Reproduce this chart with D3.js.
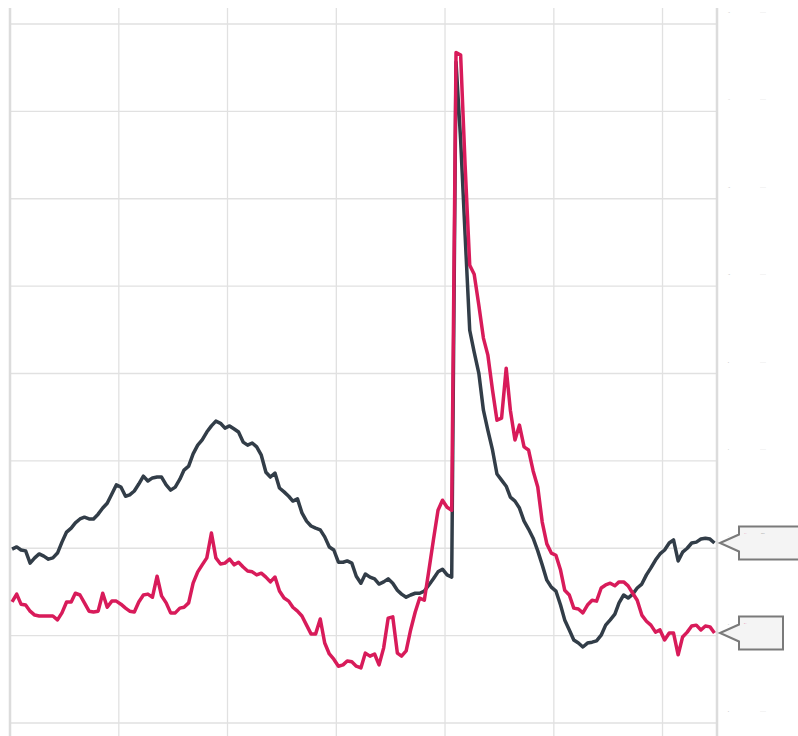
<!DOCTYPE html>
<html>
<head>
<meta charset="utf-8">
<script src="https://cdn.jsdelivr.net/npm/d3@7"></script>
<style>
  html, body { margin: 0; padding: 0; background: #fff; overflow: hidden; }
  svg { display: block; font-family: "Noto Sans", sans-serif; }
</style>
</head>
<body>
<svg id="chart" width="798" height="736"></svg>
<script>
// monthly series, Jan 2012 .. Dec 2024 (one value per month)
const firstMonth = '2012-01'
const darkValues = [
  3.98, 4.03, 3.96, 3.94, 3.66, 3.78, 3.87, 3.82, 3.75, 3.78, 3.89, 4.14,
  4.37, 4.46, 4.58, 4.67, 4.71, 4.67, 4.67, 4.78, 4.92, 5.03, 5.24, 5.45,
  5.40, 5.19, 5.22, 5.31, 5.47, 5.65, 5.54, 5.61, 5.63, 5.63, 5.45, 5.33,
  5.40, 5.58, 5.79, 5.88, 6.16, 6.36, 6.48, 6.66, 6.80, 6.91, 6.86, 6.75,
  6.80, 6.73, 6.66, 6.43, 6.36, 6.41, 6.32, 6.13, 5.74, 5.63, 5.72, 5.38,
  5.29, 5.19, 5.08, 5.13, 4.81, 4.62, 4.51, 4.46, 4.42, 4.26, 4.03, 3.96,
  3.68, 3.68, 3.71, 3.66, 3.36, 3.20, 3.41, 3.34, 3.30, 3.18, 3.23, 3.30,
  3.20, 3.04, 2.95, 2.88, 2.93, 2.97, 2.97, 3.02, 3.16, 3.30, 3.46, 3.52,
  3.39, 3.34, 15.13, 13.34, 11.17, 8.99, 8.49, 8.01, 7.16, 6.70, 6.25, 5.70,
  5.56, 5.42, 5.17, 5.08, 4.92, 4.62, 4.44, 4.23, 3.94, 3.62, 3.27, 3.11,
  3.02, 2.70, 2.36, 2.13, 1.90, 1.83, 1.74, 1.83, 1.85, 1.88, 2.01, 2.24,
  2.36, 2.49, 2.75, 2.93, 2.86, 2.95, 3.09, 3.18, 3.39, 3.55, 3.73, 3.87,
  3.96, 4.12, 4.19, 3.71, 3.91, 4.00, 4.12, 4.14, 4.21, 4.23, 4.21, 4.12
]
const redValues = [
  2.77, 2.95, 2.72, 2.70, 2.56, 2.47, 2.45, 2.45, 2.45, 2.45, 2.36, 2.52,
  2.77, 2.77, 2.97, 2.93, 2.75, 2.56, 2.54, 2.56, 2.97, 2.65, 2.79, 2.79,
  2.72, 2.63, 2.56, 2.54, 2.77, 2.93, 2.95, 2.88, 3.36, 2.91, 2.75, 2.52,
  2.52, 2.63, 2.65, 2.75, 3.20, 3.46, 3.62, 3.78, 4.35, 3.78, 3.64, 3.66,
  3.75, 3.62, 3.68, 3.57, 3.48, 3.46, 3.39, 3.43, 3.34, 3.23, 3.34, 3.02,
  2.86, 2.79, 2.65, 2.56, 2.45, 2.24, 2.04, 2.04, 2.38, 1.83, 1.58, 1.46,
  1.30, 1.33, 1.42, 1.40, 1.30, 1.26, 1.60, 1.53, 1.58, 1.33, 1.72, 2.40,
  2.43, 1.60, 1.53, 1.65, 2.13, 2.54, 2.86, 2.81, 3.50, 4.19, 4.87, 5.10,
  4.94, 4.87, 15.35, 15.29, 12.77, 10.48, 10.27, 9.57, 8.81, 8.42, 7.62, 6.93,
  6.98, 8.12, 7.16, 6.48, 6.82, 6.32, 6.25, 5.77, 5.40, 4.60, 4.10, 3.89,
  3.84, 3.50, 3.04, 2.93, 2.63, 2.61, 2.52, 2.70, 2.81, 2.79, 3.09, 3.16,
  3.20, 3.14, 3.23, 3.23, 3.14, 2.97, 2.81, 2.47, 2.33, 2.24, 2.08, 2.13,
  1.90, 2.06, 2.06, 1.56, 1.97, 2.08, 2.22, 2.24, 2.13, 2.22, 2.20, 2.06
]
const yTicks = [0, 2, 4, 6, 8, 10, 12, 14, 16]
const seriesNames = ['dark', 'red']
const seriesColors = ['#323d48', '#d81b5a']

const svg = d3.select('#chart')
const plot = {left: 10, right: 717, top: 8, bottom: 736}

const start = d3.utcParse('%Y-%m')(firstMonth)
// values sit at the middle of each month
const dates = darkValues.map((d, i) => d3.utcDay.offset(d3.utcMonth.offset(start, i), 14))

const x = d3.scaleUtc()
    .domain([start, d3.utcYear.offset(start, 13)])
    .range([plot.left, plot.right])
const y = d3.scaleLinear().domain([0, 16]).range([723, 24])

//grid
const grid = svg.append('g')
grid.selectAll('.vgrid')
    .data(x.ticks(d3.utcYear.every(2)))
    .join('line')
    .attr('x1', d => x(d)).attr('x2', d => x(d))
    .attr('y1', plot.top).attr('y2', plot.bottom)
    .attr('stroke', '#e1e1e1').attr('stroke-width', 1.3)
grid.selectAll('.hgrid')
    .data(yTicks)
    .join('line')
    .attr('x1', plot.left).attr('x2', plot.right)
    .attr('y1', d => y(d)).attr('y2', d => y(d))
    .attr('stroke', '#e1e1e1').attr('stroke-width', 1.3)

// frame lines left and right
svg.append('line').attr('x1', plot.left).attr('x2', plot.left)
    .attr('y1', plot.top).attr('y2', plot.bottom)
    .attr('stroke', '#dcdcdc').attr('stroke-width', 2.5)
svg.append('line').attr('x1', plot.right).attr('x2', plot.right)
    .attr('y1', plot.top).attr('y2', plot.bottom)
    .attr('stroke', '#dcdcdc').attr('stroke-width', 2.5)

// tiny right axis labels
const lab = svg.append('g').attr('fill', '#aaa')
lab.selectAll('.tv').data(yTicks).join('text')
    .attr('font-size', 1.6)
    .attr('x', 728).attr('y', d => y(d) - 11)
    .text(d => d)
lab.selectAll('.tu').data(yTicks).join('text')
    .attr('font-size', 2)
    .attr('x', 760).attr('y', d => y(d) - 11)
    .text('———')

// lines
const line = d3.line().x((d, i) => x(dates[i])).y(d => y(d))
const allSeries = [darkValues, redValues]
svg.selectAll('.series')
    .data(allSeries)
    .join('path')
    .attr('d', d => line(d))
    .attr('fill', 'none')
    .attr('stroke', (d, i) => seriesColors[i])
    .attr('stroke-width', 3.5)
    .attr('stroke-linejoin', 'round')

// end callouts
const boxWidth = [90, 44]
allSeries.forEach((vals, i) => {
    const last = vals[vals.length - 1]
    const cy = y(last)
    const tip = 720, bx = 739, bw = boxWidth[i]
    const g = svg.append('g')
    g.append('path')
        .attr('d', `M${tip},${cy} L${bx},${cy - 8.5} L${bx},${cy - 16.5} L${bx + bw},${cy - 16.5} L${bx + bw},${cy + 16.5} L${bx},${cy + 16.5} L${bx},${cy + 8.5} Z`)
        .attr('fill', '#f4f4f4')
        .attr('stroke', '#7a7a7a')
        .attr('stroke-width', 2)
    g.append('text')
        .attr('x', bx + 5).attr('y', cy - 9)
        .attr('font-size', 1.8).attr('fill', '#e0709a')
        .text(last.toFixed(1))
    if (i === 0) {
        g.append('text')
            .attr('x', bx + 22).attr('y', cy - 9)
            .attr('font-size', 1.8).attr('fill', '#999')
            .text(seriesNames[i])
    }
})
</script>
</body>
</html>
